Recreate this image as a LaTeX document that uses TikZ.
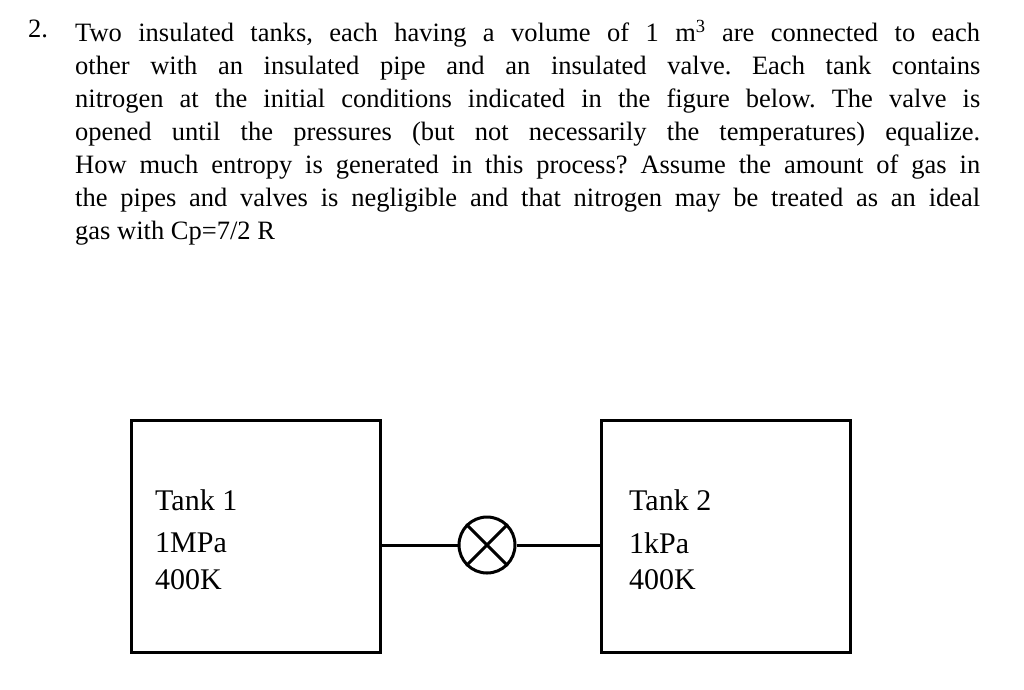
\documentclass[tikz,border=0pt]{standalone}
\usepackage{fontspec}
\setmainfont{Liberation Serif}
\frenchspacing
\tikzset{tank/.style={draw,line width=3pt},lbl/.style={anchor=west,font=\fontsize{30}{34}\selectfont,inner sep=0pt},pipe/.style={line width=3pt}}
\begin{document}
\begin{tikzpicture}[x=1pt,y=-1pt]
\useasboundingbox (0,0) rectangle (1024,689);
\node[anchor=north west,inner sep=0pt,font=\fontsize{26.5}{33}\selectfont] (num) at (28,20) {2.};
\node[anchor=north west,inner sep=0pt,text width=905pt,align=justify,font=\fontsize{26.5}{33}\selectfont] (para) at (75,20) {Two insulated tanks, each having a volume of 1 m\textsuperscript{3} are connected to each\linebreak other with an insulated pipe and an insulated valve. Each tank contains\linebreak nitrogen at the initial conditions indicated in the figure below. The valve is\linebreak opened until the pressures (but not necessarily the temperatures) equalize.\linebreak How much entropy is generated in this process? Assume the amount of gas in\linebreak the pipes and valves is negligible and that nitrogen may be treated as an ideal\linebreak gas with Cp=7/2 R\par};
\node[tank,minimum width=249pt,minimum height=232pt] (t1) at (255.5,536) {};
\node[tank,minimum width=249pt,minimum height=232pt] (t2) at (725.5,536) {};
\node[lbl] (a1) at (155,500) {Tank 1};
\node[lbl] (a2) at (155,543) {1MPa};
\node[lbl] (a3) at (155,580) {400K};
\node[lbl] (b1) at (629,500) {Tank 2};
\node[lbl] (b2) at (629,543) {1kPa};
\node[lbl] (b3) at (629,580) {400K};
\node[draw,circle,line width=3pt,minimum size=56pt,inner sep=0pt] (v) at (487,545) {};
\draw[pipe] (v.45) -- (v.225) (v.135) -- (v.315);
\draw[pipe] (t1.east |- v) -- (v.west);
\draw[pipe] (v.east) -- (t2.west |- v);
\end{tikzpicture}
\end{document}
